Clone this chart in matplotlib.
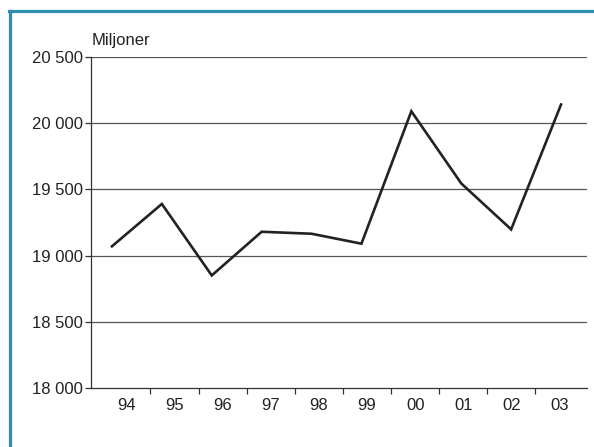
import numpy as np
import matplotlib
matplotlib.use("Agg")
import matplotlib.pyplot as plt
from matplotlib.lines import Line2D

plt.rcParams['font.family'] = ['Liberation Sans', 'DejaVu Sans']

# data (miljoner)
years = ["94", "95", "96", "97", "98", "99", "00", "01", "02", "03"]
values = [19070, 19390, 18850, 19180, 19165, 19090, 20090, 19545, 19198, 20141]
yticks = [18000, 18500, 19000, 19500, 20000, 20500]

fig = plt.figure(figsize=(5.94, 4.47), dpi=100)
ax = fig.add_axes([0.1532, 0.132, 0.835, 0.7405])

x = np.arange(len(years))
ax.plot(x, values, color="#222222", lw=1.9, solid_joinstyle="miter")

ax.set_xlim(-0.42, 9.52)
ax.set_ylim(18000, 20500)

# grid lines
for v in yticks[1:]:
    ax.axhline(v, color="#555555", lw=0.9, zorder=0)

ax.set_yticks(yticks)
ax.set_yticklabels([f"{v:,}".replace(",", " ") for v in yticks])

# category labels sit a bit off the line points (as in the source)
lab_pos = np.linspace(0.29, 8.97, len(years))
ax.set_xticks((lab_pos[:-1] + lab_pos[1:]) / 2)
ax.set_xticklabels([])
ax.set_xticks(lab_pos, minor=True)
ax.set_xticklabels(years, minor=True)
ax.tick_params(axis="x", which="minor", length=0, pad=7, labelsize=12, colors="#222222")
ax.tick_params(axis="x", which="major", length=4, width=0.9, color="#333333", direction="out")
ax.tick_params(axis="y", length=4, width=0.9, color="#333333", labelsize=12, labelcolor="#222222", pad=2)

for s in ["top", "right"]:
    ax.spines[s].set_visible(False)
for s in ["left", "bottom"]:
    ax.spines[s].set_color("#333333")
    ax.spines[s].set_linewidth(0.9)

fig.text(0.155, 1 - 45 / 447, "Miljoner", fontsize=12, color="#222222", ha="left", va="baseline")

# blue frame on left and top
fc = "#2f8db0"
fig.add_artist(Line2D([10 / 594, 10 / 594], [0, 1 - 10.5 / 447], transform=fig.transFigure, color=fc, lw=2.3))
fig.add_artist(Line2D([10 / 594 - 0.002, 1], [1 - 10.5 / 447, 1 - 10.5 / 447], transform=fig.transFigure, color=fc, lw=2.3))

fig.savefig("out.png", dpi=100)
